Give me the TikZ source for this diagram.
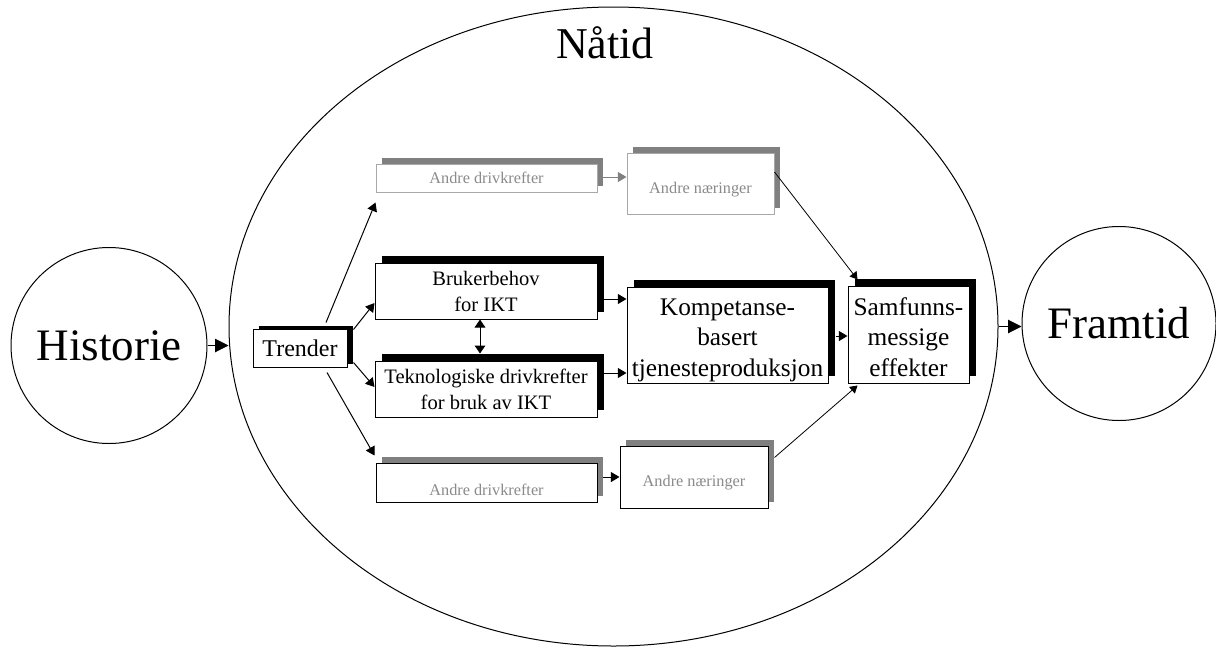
\documentclass[tikz,border=0pt]{standalone}
\usepackage{fontspec}
\setmainfont{Liberation Serif}
\usetikzlibrary{arrows.meta,shadows,calc,shapes.geometric}
\definecolor{softgray}{HTML}{8A8A8A}
\definecolor{rimgray}{HTML}{A8A8A8}
\definecolor{shadegray}{HTML}{808080}
\begin{document}
\begin{tikzpicture}[x=0.75pt,y=-0.75pt,
  every node/.style={inner sep=0pt, align=center},
  box/.style={draw, fill=white, line width=0.75pt},
  darkshade/.style={drop shadow={shadow xshift=5pt, shadow yshift=5pt, fill=black, opacity=1}},
  greyshade/.style={drop shadow={shadow xshift=4.25pt, shadow yshift=4.5pt, fill=shadegray, opacity=1}},
  bigarr/.style={line width=0.75pt, -{Triangle[length=10pt,width=10pt]}},
  arr/.style={line width=0.75pt, -{Triangle[length=6.5pt,width=7.5pt]}},
  thinarr/.style={line width=0.6pt, -{Triangle[length=5.5pt,width=6.5pt]}},
  bigtext/.style={font=\fontsize{33.75pt}{40pt}\selectfont},
  midtext/.style={font=\fontsize{19pt}{23pt}\selectfont},
  boxtext/.style={font=\fontsize{15.4pt}{19.5pt}\selectfont},
  smalltext/.style={font=\fontsize{12.2pt}{14pt}\selectfont, text=softgray}]
\useasboundingbox (0,0) rectangle (1216,647);

% the present, past and future
\node[ellipse, draw, line width=0.75pt, minimum width=576.75pt, minimum height=479.25pt] (nat) at (613.5,326.5) {};
\node[anchor=base, font=\fontsize{33pt}{38pt}\selectfont] (nattitle) at (605,58) {Nåtid};
\node[circle, draw, line width=0.75pt, minimum size=147pt, bigtext] (hist) at (109,345.5) {Historie};
\node[circle, draw, line width=0.75pt, minimum size=145.5pt, bigtext] (fram) at (1119,323.5) {Framtid};

% boxes
\node[box, drop shadow={shadow xshift=4.5pt, shadow yshift=2.5pt, fill=black, opacity=1},
      minimum width=70.5pt, minimum height=28.5pt, font=\fontsize{18pt}{21pt}\selectfont] (trender) at (300,348) {Trender};
\node[box, darkshade, minimum width=166.5pt, minimum height=42pt, boxtext] (bruker) at (486,291) {Brukerbehov\\for IKT};
\node[box, darkshade, minimum width=166.5pt, minimum height=42pt, boxtext] (tekno) at (486,389) {Teknologiske drivkrefter\\for bruk av IKT};
\node[box, darkshade, minimum width=150.75pt, minimum height=72pt,
      label={[midtext, align=center, yshift=-4pt]center:{Kompetanse-\\basert\\tjenesteproduksjon}}] (komp) at (727.5,335) {};
\node[box, darkshade, minimum width=90.75pt, minimum height=72.75pt,
      label={[midtext, align=center, yshift=-2pt]center:{Samfunns-\\messige\\effekter}}] (samf) at (908.5,334.5) {};

\node[box, draw=rimgray, greyshade, minimum width=165.75pt, minimum height=21pt, smalltext] (adTop) at (486.5,178) {Andre drivkrefter};
\node[box, draw=rimgray, greyshade, minimum width=110.25pt, minimum height=45.75pt, smalltext,
      text height=14.25pt, text depth=0pt] (anTop) at (700.5,183.5) {Andre næringer};
\node[box, greyshade, minimum width=165.75pt, minimum height=29.25pt, smalltext,
      text height=18.75pt, text depth=0pt] (adBot) at (486.5,482.5) {Andre drivkrefter};
\node[box, greyshade, minimum width=111pt, minimum height=46.5pt, smalltext,
      text height=13.5pt, text depth=0pt] (anBot) at (694,477) {Andre næringer};

% connectors
\draw[bigarr] (hist.east) -- (hist.east -| nat.west);
\draw[bigarr] (nat.east) -- (nat.east -| fram.west);

\draw[arr] ($(trender.north)+(26,-6)$) -- ($(adTop.south west)+(0,10)$);
\draw[arr] ($(trender.north east)+(6,1)$) -- ($(bruker.west)+(0,12)$);
\draw[arr] ($(trender.south east)+(6,-5)$) -- ($(tekno.west)+(0,-2)$);
\draw[arr] ($(trender.south)+(27,5)$) -- ($(adBot.north west)+(-1,-7)$);

\draw[line width=0.75pt, {Triangle[length=6pt,width=8pt]}-{Triangle[length=6pt,width=8pt]}]
  ($(bruker.south)+(-6,0)$) -- ($(tekno.north)+(-6,-7)$);

\draw[arr] ($(bruker.east)+(6,8)$) -- ($(komp.west)+(0,-36)$);
\draw[arr] ($(tekno.east)+(6,-16)$) -- ($(komp.west)+(0,38)$);
\draw[arr] ($(komp.east)+(7,1)$) -- ($(samf.west)+(0,1.5)$);

\draw[arr, draw=shadegray, fill=shadegray] ($(adTop.east)+(5,-1)$) -- ($(anTop.west)+(0,-6.5)$);
\draw[arr] ($(adBot.east)+(5,-5.5)$) -- ($(anBot.west)+(0,0)$);

\draw[thinarr] ($(anTop.east)+(0,-11.5)$) -- ($(samf.north west)+(10,-6)$);
\draw[thinarr] ($(anBot.north east)+(6,12)$) -- ($(samf.south west)+(10,2)$);
\end{tikzpicture}
\end{document}
